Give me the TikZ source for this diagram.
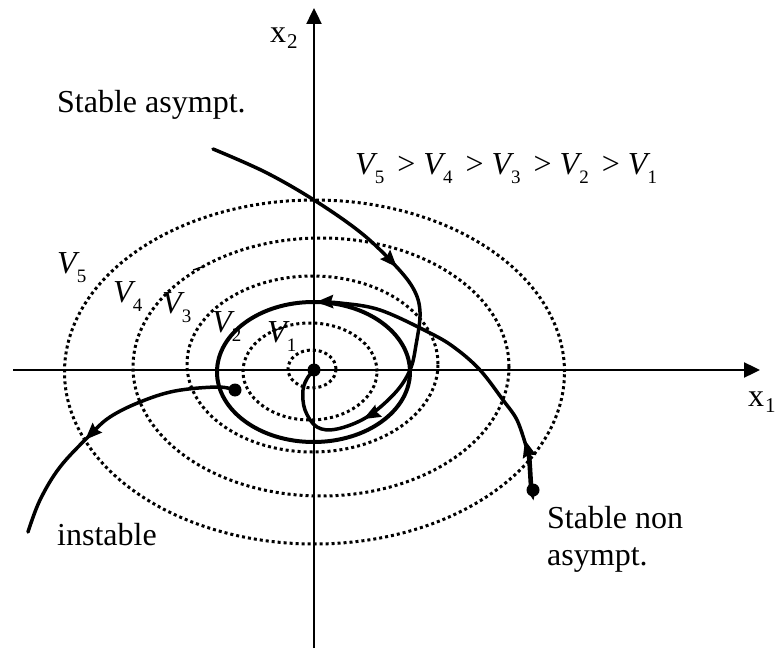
\documentclass[tikz,border=0pt]{standalone}
\usepackage{fontspec}
\setmainfont{Liberation Serif}
\usetikzlibrary{arrows.meta,decorations.markings}
\tikzset{
  axis/.style={line width=2.4pt},
  thinaxis/.style={line width=1.2pt},
  level/.style={line width=3pt, dash pattern=on 3pt off 3pt},
  traj/.style={line width=3.5pt, line cap=round},
  orbit/.style={line width=4pt},
  dot/.style={circle, fill=black, inner sep=0pt, minimum size=13pt},
  lab/.style={font=\fontsize{32}{37}\selectfont, inner sep=0pt, anchor=base west},
  xlab/.style={font=\fontsize{32}{34}\selectfont, inner sep=0pt, anchor=base west},
  arrowat/.style={postaction={decorate, decoration={markings, mark=at position #1 with {\arrow{Stealth[length=17pt,width=13pt,inset=2pt]}}}}},
}
\newcommand\Vsub[1]{\textit{V}\kern-3pt\raisebox{-9pt}{\fontsize{19}{19}\selectfont #1}}
\newcommand\Xsub[1]{x\kern1pt\raisebox{-6pt}{\fontsize{21}{21}\selectfont #1}}
\begin{document}
\begin{tikzpicture}[x=1pt,y=-1pt]
\useasboundingbox (0,0) rectangle (777,650);
% level curves
\draw[level] (312,369) ellipse [x radius=24pt, y radius=19pt];
\draw[level] (310,371.5) ellipse [x radius=67pt, y radius=48.5pt];
\draw[level] (312.5,364) ellipse [x radius=125.5pt, y radius=88pt];
\draw[level] (321,367) ellipse [x radius=188pt, y radius=129pt];
\draw[level] (314.5,372) ellipse [x radius=250pt, y radius=172pt];
\draw[line width=1.4pt] (193,270) -- (205,266);
\draw[line width=1.4pt] (272,331) -- (285,327);
% axes
\coordinate (xl) at (13,370);
\coordinate (xr) at (760,370);
\coordinate (yb) at (314,648);
\coordinate (yt) at (314,8);
\coordinate (O) at (314,370);
\coordinate (Ot) at (314,302);
\draw[axis, -{Triangle[length=16pt,width=15pt]}] (xl) -- (xr);
\draw[axis] (yb) -- (O);
\draw[thinaxis] (O) -- (Ot);
\draw[axis, -{Triangle[length=16pt,width=15pt]}] (Ot) -- (yt);
% limit cycle
\draw[orbit] (313.5,372) ellipse [x radius=96.5pt, y radius=70pt];
% stable asymptotic trajectory
\draw[traj, arrowat=0.43, arrowat=0.78] plot[smooth, tension=0.6] coordinates {
 (213,149) (265,172) (314,200) (360,232) (392,262) (413,288) (420,312) (416,345)
 (410,370) (395,393) (367,417) (337,429) (317,427) (305,410) (303,390) (308,377) (314,371)};
% stable non asymptotic trajectory
\node[dot] (sna) at (533,490) {};
\coordinate (snaA) at (525,440);
\draw[line width=4.6pt, -{Stealth[length=17pt,width=13pt,inset=2pt]}] (sna.center) to[out=-95,in=-75] (snaA);
\draw[traj, -{Stealth[length=17pt,width=13pt,inset=2pt]}] plot[smooth, tension=0.6] coordinates {
 (526,446) (517,420) (503,400) (480,370) (455,348) (430,333) (380,310) (340,303) (316,302)};
% instable trajectory
\node[dot] (ins) at (235,390) {};
\draw[traj, arrowat=0.6] plot[smooth, tension=0.6] coordinates {
 (235,390) (217,387) (175,391) (140,402) (110,417) (90,435) (60,467) (40,500) (28,532)};
% origin
\node[dot] (orig) at (O) {};
% labels
\node[xlab] (lx2) at (270,43) {\Xsub{2}};
\node[xlab] (lx1) at (748,406) {\Xsub{1}};
\node[lab] (lsa) at (57,113) {Stable asympt.};
\node[lab] (lin) at (57,545) {instable};
\node[lab] (lsn1) at (547,528) {Stable non};
\node[lab] (lsn2) at (547,565) {asympt.};
\node[lab] (ineq) at (355,175) {\Vsub{5}\hspace{13pt}>\hspace{8pt}\Vsub{4}\hspace{13pt}>\hspace{8pt}\Vsub{3}\hspace{13pt}>\hspace{8pt}\Vsub{2}\hspace{13pt}>\hspace{8pt}\Vsub{1}};
\node[lab] (v5) at (57,273) {\Vsub{5}};
\node[lab] (v4) at (113,302) {\Vsub{4}};
\node[lab] (v3) at (162,313) {\Vsub{3}};
\node[lab] (v2) at (212,332) {\Vsub{2}};
\node[lab] (v1) at (267,342) {\Vsub{1}};
\end{tikzpicture}
\end{document}
